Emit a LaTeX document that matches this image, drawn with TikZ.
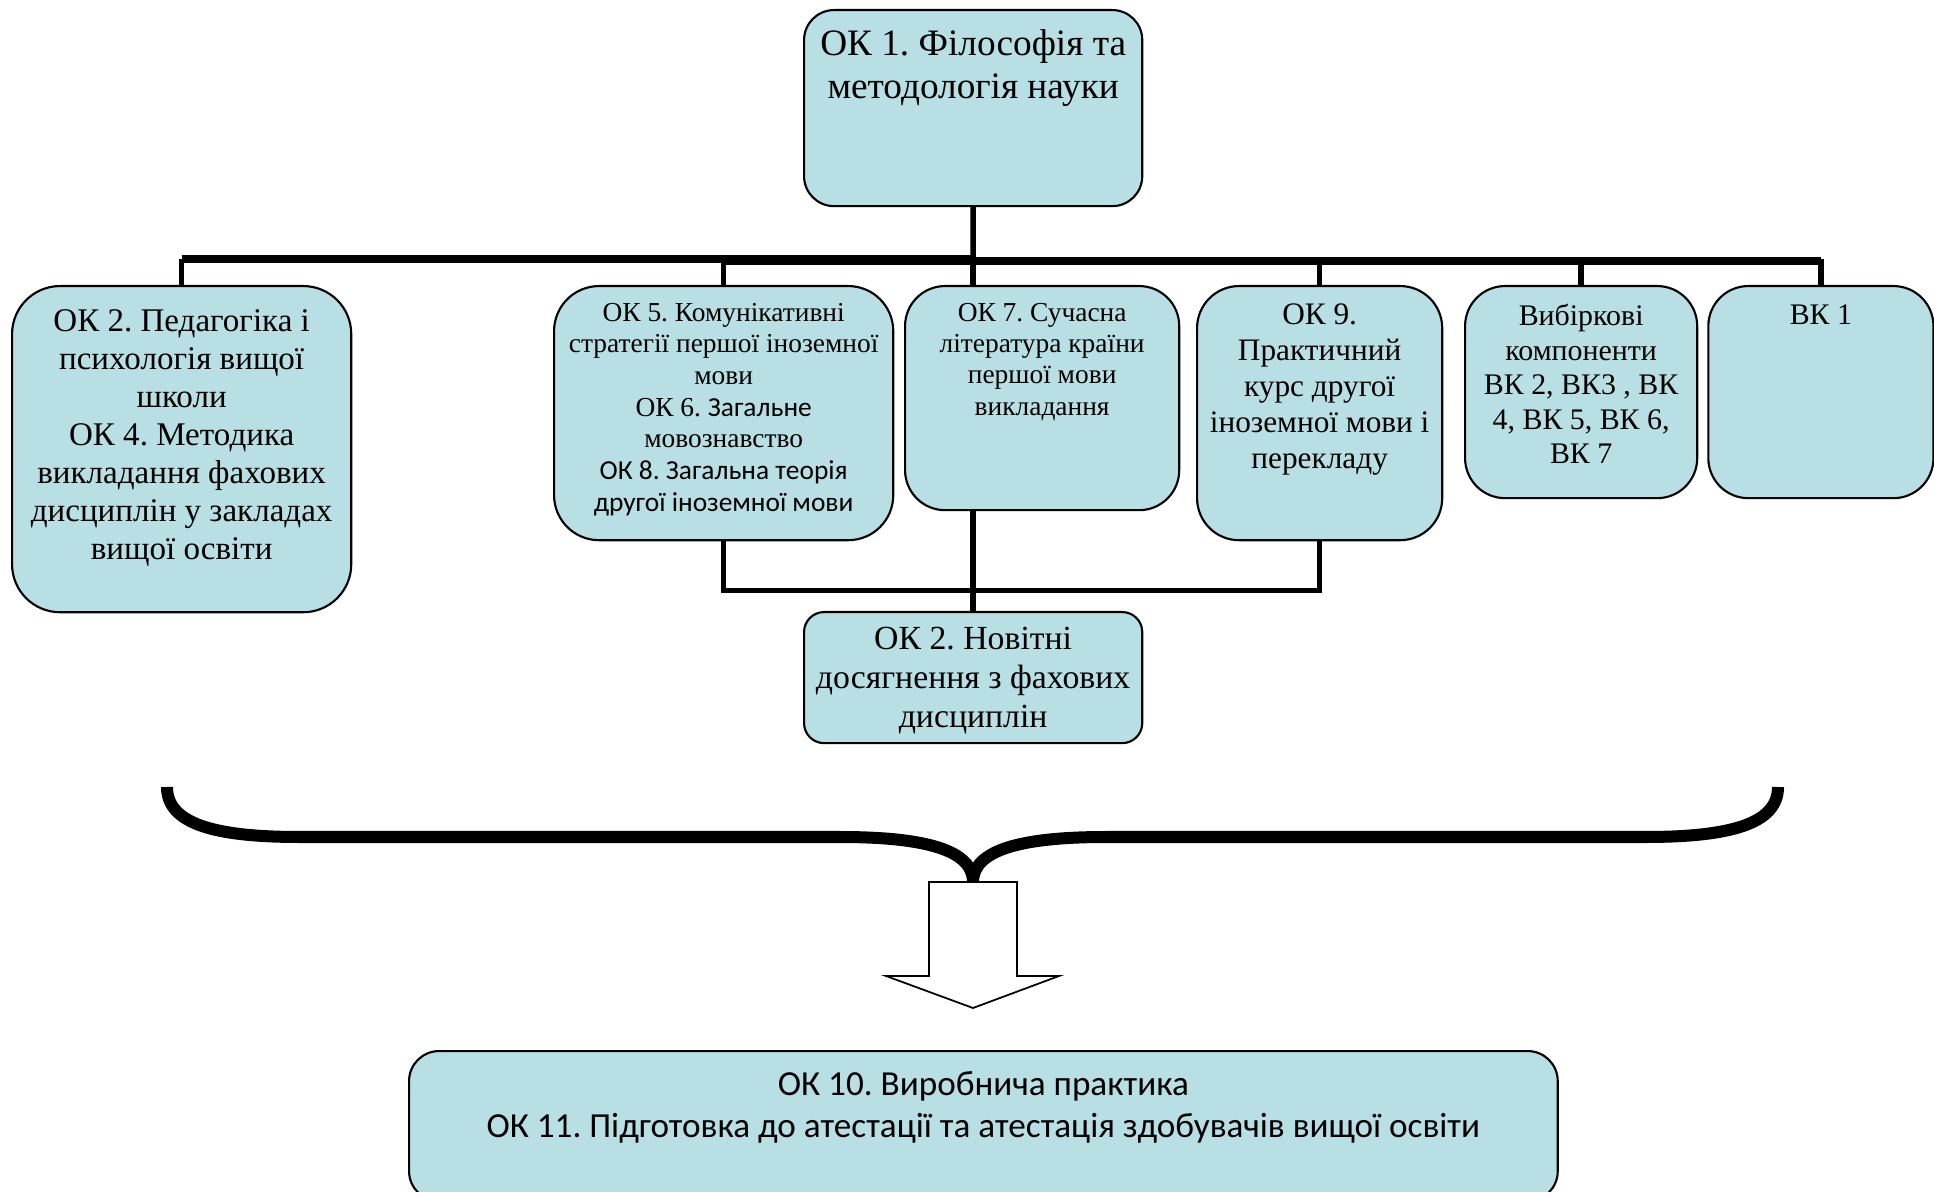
\documentclass[tikz,border=0pt]{standalone}
\usepackage{fontspec}
\setmainfont{Liberation Serif}
\newfontfamily\calibri{Carlito}
\usetikzlibrary{positioning}
\frenchspacing

\definecolor{okblue}{RGB}{184,223,228}

% text set at the top of a box: width, height, gap above, lines
\newcommand{\oktext}[4]{\parbox[c][#2][t]{#1}{\centering\vspace*{#3}#4}}

\begin{document}
\begin{tikzpicture}[%
  x = 0.01cm, y = -0.01cm,
  okbox/.style = {draw, line width=0.6pt, fill=okblue, inner sep=0pt,
                  anchor=north west},
  link/.style  = {line width=0.055cm},
  bus/.style   = {line width=0.075cm},
  brace/.style = {line width=0.12cm},
  block/.style = {draw, line width=0.5pt, fill=white, line join=miter}
]
  \useasboundingbox (0,0) rectangle (1934,1192);
  \clip (0,0) rectangle (1934,1192);

  % top
  \node[okbox, rounded corners=0.3cm,
        font=\fontsize{10.6}{12.2}\selectfont] (ok1) at (803,9)
       {\oktext{3.38cm}{1.96cm}{0.2cm}{ОК 1. Філософія та\\методологія науки}};

  % second row
  \node[okbox, rounded corners=0.48cm,
        font=\fontsize{9.4}{10.8}\selectfont] (ok2) at (11,285)
       {\oktext{3.39cm}{3.26cm}{0.24cm}{ОК 2. Педагогіка і\\психологія вищої\\школи\\
        ОК 4. Методика\\викладання фахових\\дисциплін у закладах\\вищої освіти}};
  \node[okbox, rounded corners=0.45cm,
        font=\fontsize{7.8}{9.0}\selectfont] (ok5) at (553,285)
       {\oktext{3.39cm}{2.54cm}{0.17cm}{ОК 5. Комунікативні\\стратегії першої іноземної\\мови\\
        ОК 6. {\calibri Загальне}\\мовознавство\\
        {\calibri ОК 8. Загальна теорія\\другої іноземної мови}}};
  \node[okbox, rounded corners=0.4cm,
        font=\fontsize{7.8}{8.9}\selectfont] (ok7) at (904,285)
       {\oktext{2.74cm}{2.24cm}{0.17cm}{ОК 7. Сучасна\\література країни\\першої мови\\викладання}};
  \node[okbox, rounded corners=0.42cm,
        font=\fontsize{8.9}{10.2}\selectfont] (ok9) at (1196,285)
       {\oktext{2.45cm}{2.54cm}{0.18cm}{ОК 9.\\Практичний\\курс другої\\іноземної мови і\\перекладу}};
  \node[okbox, rounded corners=0.4cm,
        font=\fontsize{8.5}{9.8}\selectfont] (vyb) at (1464,285)
       {\oktext{2.32cm}{2.12cm}{0.185cm}{Вибіркові\\компоненти\\ВК 2, ВК3 , ВК\\4, ВК 5, ВК 6,\\ВК 7}};
  \node[okbox, rounded corners=0.4cm, right=0.09cm of vyb,
        font=\fontsize{8.5}{9.8}\selectfont] (vk1)
       {\oktext{2.25cm}{2.12cm}{0.185cm}{ВК 1}};

  % under the middle
  \node[okbox, rounded corners=0.2cm,
        font=\fontsize{9.6}{11.05}\selectfont] (nov) at (803,611)
       {\oktext{3.38cm}{1.31cm}{0.15cm}{ОК 2. Новітні\\досягнення з фахових\\дисциплін}};

  % result
  \node[okbox, rounded corners=0.3cm,
        font=\calibri\fontsize{10}{12.2}\selectfont] (res) at (408,1050)
       {\oktext{11.48cm}{1.5cm}{0.2cm}{ОК 10. Виробнича практика\\
        ОК 11. Підготовка до атестації та атестація здобувачів вищої освіти}};

  % Connections
  \coordinate (bus) at (973,259);
  \draw[link] (ok1.south) -- (bus);
  \draw[bus] (ok2.north |- bus) -- (bus);
  \draw[bus] ([yshift=-0.02cm]ok5.north |- bus) -- ([yshift=-0.02cm]vk1.north |- bus);
  \draw[link] (ok2.north) -- (ok2.north |- bus);
  \draw[link] (ok5.north) -- (ok5.north |- bus);
  \draw[link] (bus) -- (bus |- ok7.north);
  \draw[link] (ok9.north) -- (ok9.north |- bus);
  \draw[link] (vyb.north) -- (vyb.north |- bus);
  \draw[link] (vk1.north) -- (vk1.north |- bus);

  \draw[link] (ok5.south) -- ++(0,49) -| (ok9.south);
  \draw[link] (nov.north) -- (nov.north |- ok7.south);

  % brace and arrow
  \coordinate (tip) at (973,882);
  \draw[brace] (167,787) .. controls (167,824) and (215,837) .. (300,837)
               -- (840,837) .. controls (925,837) and (973,850) .. (tip)
               .. controls (973,850) and (1021,837) .. (1106,837)
               -- (1645,837) .. controls (1730,837) and (1778,824) .. (1778,787);
  \draw[block] (tip) ++(-44,0) -- ++(0,94) -- ++(-43,0) -- ++(87,32)
               -- ++(86,-32) -- ++(-42,0) -- ++(0,-94) -- cycle;

\end{tikzpicture}
\end{document}
